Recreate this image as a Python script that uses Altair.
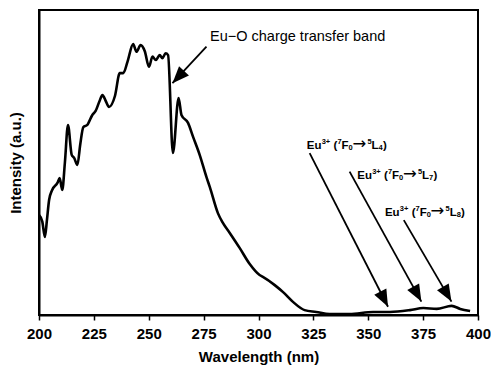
import math
import altair as alt
import pandas as pd

# ---- spectrum data ----
wavelength = [200.0, 201.5, 202.7, 203.6, 204.6, 206.0, 208.4, 209.4, 210.6, 211.8,
              213.2, 214.9, 216.0, 217.5, 218.8, 220.2, 222.0, 224.3, 225.8, 227.5,
              228.9, 230.5, 231.9, 234.6, 236.8, 238.4, 240.3, 242.9, 244.4, 246.3,
              248.2, 250.1, 251.7, 253.2, 255.0, 256.2, 257.7, 258.8, 261.0, 263.6,
              264.9, 267.9, 270.2, 273.2, 276.3, 277.8, 281.5, 283.5, 286.9, 291.4,
              296.0, 300.5, 302.0, 307.4, 311.2, 315.7, 321.0, 326.3, 332.4, 341.5,
              352.2, 359.9, 369.0, 375.1, 381.2, 388.0, 391.9, 396.4]
intensity = [32.8, 30.6, 25.6, 31.0, 37.7, 41.0, 43.3, 44.9, 41.0, 50.0,
             62.3, 52.5, 51.5, 49.2, 56.0, 61.6, 62.3, 65.6, 66.9, 70.0,
             72.1, 70.0, 68.2, 71.8, 79.3, 79.3, 83.0, 88.8, 86.3, 88.5,
             86.5, 81.4, 84.7, 83.6, 85.2, 84.2, 85.8, 85.2, 53.1, 71.1,
             65.6, 63.0, 58.4, 52.5, 45.2, 42.0, 33.4, 30.5, 26.9, 22.0,
             16.7, 13.1, 12.5, 9.8, 7.5, 4.3, 1.6, 1.0, 0.3, 0.3,
             1.0, 1.0, 1.6, 2.3, 2.0, 3.0, 2.0, 1.3]

# ---- annotations ----
ct_label = "Eu\u2212O charge transfer band"
ct_x, ct_y = 277.9, 91.1

# Eu3+ transition labels: final level of each transition
levels = ["4", "7", "8"]
lvl_x = [322.0, 345.0, 357.6]      # left edge of label (nm)
lvl_y = [54.5, 44.7, 32.6]         # text baseline (intensity units)

arrow_x = [276.3, 323.3, 341.5, 366.2]
arrow_y = [88.0, 53.1, 47.0, 31.1]
tip_x = [260.8, 359.0, 374.2, 387.9]
tip_y = [76.0, 2.7, 4.4, 4.4]

W, H = 439, 305
XMIN, XMAX, YMIN, YMAX = 200, 400, 0, 100
sx = W / (XMAX - XMIN)
sy = H / (YMAX - YMIN)

angles = []
for x0, y0, x1, y1 in zip(arrow_x, arrow_y, tip_x, tip_y):
    dx = (x1 - x0) * sx
    dy = -(y1 - y0) * sy
    angles.append(math.degrees(math.atan2(-dx, dy)) % 360)

# segment layout of "Eu3+ (7F0->5Lx)": (text, x offset px, baseline shift px, font size, kind)
MAIN, SMALL = 11.5, 7.5
def segments(lv):
    return [("Eu", 0.0, 0.0, MAIN, "t"), ("3+", 14.9, 5.0, SMALL, "t"), ("(", 26.7, 0.0, MAIN, "t"),
            ("7", 30.6, 5.0, SMALL, "t"), ("F", 34.8, 0.0, MAIN, "t"), ("0", 41.7, -1.5, SMALL, "t"),
            ("\u2192", 45.6, -0.5, 16.5, "a"), ("5", 60.6, 5.0, SMALL, "t"), ("L", 64.8, 0.0, MAIN, "t"),
            (lv, 71.7, -1.5, SMALL, "t"), (")", 76.1, 0.0, MAIN, "t")]

rows = []
for lv, bx, by in zip(levels, lvl_x, lvl_y):
    for t, ox, oy, fs, kind in segments(lv):
        rows.append({"x": bx + ox / sx, "y": by + oy / sy, "t": t, "fs": fs, "kind": kind})
seg_df = pd.DataFrame(rows)

spec = pd.DataFrame({"wl": wavelength, "I": intensity})
arrows = pd.DataFrame({"x": arrow_x, "y": arrow_y, "x2": tip_x, "y2": tip_y, "ang": angles})
ct_df = pd.DataFrame({"x": [ct_x], "y": [ct_y], "t": [ct_label]})

FONT = "Liberation Sans"
xscale = alt.Scale(domain=[XMIN, XMAX], nice=False, zero=False)
yscale = alt.Scale(domain=[YMIN, YMAX], nice=False, zero=False)

tick_vals = [200 + 12.5 * i for i in range(17)]

line = alt.Chart(spec).mark_line(color="black", strokeWidth=2.6, interpolate="monotone").encode(
    x=alt.X("wl:Q", scale=xscale,
            axis=alt.Axis(title="Wavelength (nm)", values=tick_vals,
                          labelExpr="datum.value % 25 == 0 ? datum.label : ''",
                          format="d", grid=False, tickSize=5, tickWidth=1.5, tickColor="black",
                          domainColor="black", domainWidth=2, labelOverlap=False,
                          labelFlush=False, labelPadding=6, titlePadding=8)),
    y=alt.Y("I:Q", scale=yscale,
            axis=alt.Axis(title="Intensity (a.u.)", labels=False, ticks=False, grid=False,
                          domainColor="black", domainWidth=2, titlePadding=16)),
)

rules = alt.Chart(arrows).mark_rule(color="black", strokeWidth=1.8).encode(
    x=alt.X("x:Q", scale=xscale), y=alt.Y("y:Q", scale=yscale),
    x2="x2:Q", y2="y2:Q",
)

heads = alt.Chart(arrows).mark_point(
    shape="M0,0L-0.4,-1L0.4,-1Z", filled=True, color="black", opacity=1, size=1150, strokeWidth=0
).encode(
    x=alt.X("x2:Q", scale=xscale), y=alt.Y("y2:Q", scale=yscale),
    angle=alt.Angle("ang:Q", scale=None),
)

txt_ct = alt.Chart(ct_df).mark_text(
    align="left", baseline="middle", font=FONT, fontSize=14.5, color="black"
).encode(x=alt.X("x:Q", scale=xscale), y=alt.Y("y:Q", scale=yscale), text="t:N")

txt_eu = alt.Chart(seg_df[seg_df.kind == "t"]).mark_text(
    align="left", baseline="alphabetic", font=FONT, fontWeight="bold", color="black"
).encode(x=alt.X("x:Q", scale=xscale), y=alt.Y("y:Q", scale=yscale), text="t:N",
         size=alt.Size("fs:Q", scale=None))

txt_arrow = alt.Chart(seg_df[seg_df.kind == "a"]).mark_text(
    align="left", baseline="alphabetic", font="DejaVu Sans", color="black"
).encode(x=alt.X("x:Q", scale=xscale), y=alt.Y("y:Q", scale=yscale), text="t:N",
         size=alt.Size("fs:Q", scale=None))

chart = alt.layer(line, rules, heads, txt_ct, txt_eu, txt_arrow).properties(
    width=W, height=H,
    autosize=alt.AutoSizeParams(type="none"),
    padding={"left": 39, "top": 10, "right": 13, "bottom": 50},
    background="white",
).configure_view(stroke="black", strokeWidth=2).configure_axis(
    labelFont=FONT, labelFontSize=15, labelFontWeight="bold", labelColor="black",
    titleFont=FONT, titleFontSize=15, titleFontWeight="bold", titleColor="black",
)

chart.save("out.html", embed_options={"renderer": "svg", "actions": False})
